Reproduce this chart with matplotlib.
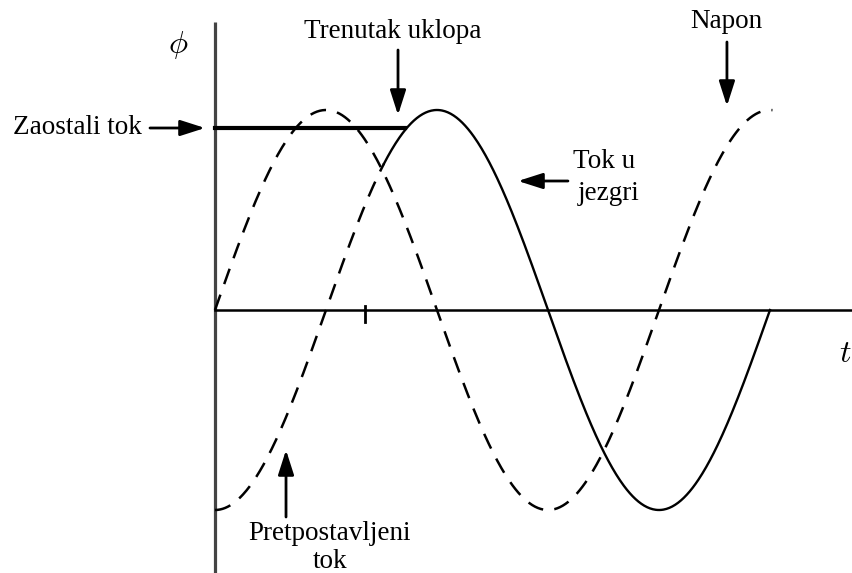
import numpy as np
import matplotlib.pyplot as plt

plt.rcParams['font.family'] = ['Liberation Serif', 'DejaVu Serif']
plt.rcParams['mathtext.fontset'] = 'cm'

# phase angle in degrees, flux / voltage in per-unit of peak
theta_napon = np.linspace(0, 452, 400)
theta_pretp = np.linspace(0, 137, 200)
theta_tok = np.linspace(137, 450, 400)
zaostali_tok = 0.91
theta_uklop = 154
theta_tick = 122

napon = np.sin(np.radians(theta_napon))
pretp = -np.cos(np.radians(theta_pretp))
tok = -np.cos(np.radians(theta_tok))

fig = plt.figure(figsize=(8.53, 5.73), dpi=100)
ax = fig.add_axes([0, 0, 1, 1])
ax.set_xlim(-174.3, 517.3)
ax.set_ylim(-1.315, 1.55)
ax.axis('off')

# axes
ax.plot([0, 0], [-1.4, 1.44], color='#444444', lw=2.3, solid_capstyle='butt')
ax.plot([0, 520], [0, 0], color='black', lw=1.8)
ax.plot([theta_tick, theta_tick], [0.02, -0.06], color='black', lw=2)

# curves
ax.plot(theta_napon, napon, color='black', lw=1.8, dashes=(6.5, 4.5))
ax.plot(theta_pretp, pretp, color='black', lw=1.8, dashes=(6.5, 4.5))
ax.plot(theta_tok, tok, color='black', lw=1.7)
ax.plot([0, theta_uklop], [zaostali_tok, zaostali_tok], color='black', lw=3)

fs = 19.5
ax.text(-30, 1.325, r'$\phi$', fontsize=23, ha='center', va='center')
ax.text(510.8, -0.225, r'$t$', fontsize=23, ha='center', va='center')

arrow = dict(arrowstyle='-|>,head_length=0.75,head_width=0.24', color='black',
             lw=2, mutation_scale=20, shrinkA=0, shrinkB=0)

ax.text(-59.2, 0.91, 'Zaostali tok', fontsize=fs, ha='right', va='center')
ax.annotate('', xy=(-8.1, 0.91), xytext=(-52.7, 0.91), arrowprops=arrow)

ax.text(144.3, 1.39, 'Trenutak uklopa', fontsize=fs, ha='center', va='center')
ax.annotate('', xy=(148.4, 0.975), xytext=(148.4, 1.30), arrowprops=arrow)

ax.text(414.3, 1.44, 'Napon', fontsize=fs, ha='center', va='center')
ax.annotate('', xy=(415.1, 1.02), xytext=(415.1, 1.34), arrowprops=arrow)

ax.text(290.3, 0.74, 'Tok u', fontsize=fs, ha='left', va='center')
ax.text(294.3, 0.585, 'jezgri', fontsize=fs, ha='left', va='center')
ax.annotate('', xy=(245.7, 0.645), xytext=(286.2, 0.645), arrowprops=arrow)

ax.text(93.2, -1.115, 'Pretpostavljeni', fontsize=fs, ha='center', va='center')
ax.text(93.2, -1.26, 'tok', fontsize=fs, ha='center', va='center')
ax.annotate('', xy=(57.6, -0.70), xytext=(57.6, -1.035), arrowprops=arrow)

fig.savefig('out.png', dpi=100)
